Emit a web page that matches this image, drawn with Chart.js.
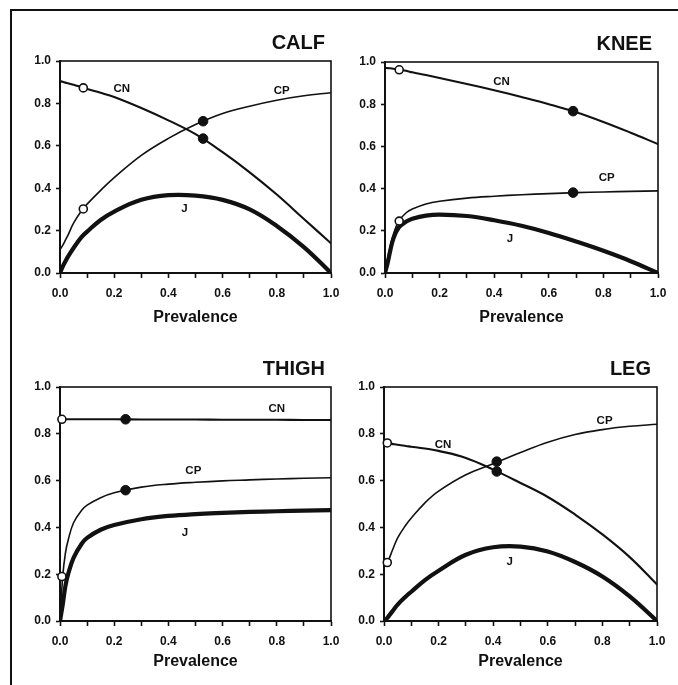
<!DOCTYPE html>
<html>
<head>
<meta charset="utf-8">
<script src="https://cdn.jsdelivr.net/npm/chart.js@4.4.1/dist/chart.umd.min.js"></script>
<style>
  html, body { margin: 0; padding: 0; background: #ffffff; width: 678px; height: 685px; overflow: hidden; }
  body { position: relative; }
  #frame { position: absolute; left: 10px; top: 9px; width: 720px; height: 720px;
           border-top: 2px solid #111; border-left: 2px solid #111; }
  canvas { position: absolute; }
</style>
</head>
<body>
<div id="frame"></div>
<canvas id="calf"></canvas>
<canvas id="knee"></canvas>
<canvas id="thigh"></canvas>
<canvas id="leg"></canvas>
<script>
// ---------------- DATA ----------------
const prevalence = [0, 0.01, 0.02, 0.03, 0.05, 0.08, 0.1, 0.15, 0.2, 0.3, 0.4, 0.5, 0.6, 0.7, 0.8, 0.9, 1.0];

const xTickLabels = ['0.0', '0.2', '0.4', '0.6', '0.8', '1.0'];
const yTickLabels = ['0.0', '0.2', '0.4', '0.6', '0.8', '1.0'];

// CALF
const calfCN = [0.905, 0.902, 0.898, 0.895, 0.888, 0.876, 0.868, 0.85, 0.83, 0.778, 0.72, 0.655, 0.57, 0.475, 0.37, 0.255, 0.14];
const calfCP = [0.11, 0.13, 0.155, 0.18, 0.235, 0.295, 0.325, 0.39, 0.45, 0.555, 0.635, 0.70, 0.752, 0.787, 0.815, 0.836, 0.85];
const calfJ  = [0, 0.03, 0.055, 0.078, 0.118, 0.17, 0.195, 0.25, 0.29, 0.345, 0.367, 0.365, 0.345, 0.30, 0.222, 0.122, 0];
const calfOpen   = [[0.086, 0.873], [0.086, 0.302]];
const calfFilled = [[0.528, 0.634], [0.528, 0.716]];

// KNEE
const kneeCN = [0.972, 0.971, 0.970, 0.968, 0.965, 0.957, 0.951, 0.938, 0.924, 0.896, 0.866, 0.834, 0.80, 0.762, 0.716, 0.665, 0.611];
const kneeCP = [0, 0.07, 0.13, 0.18, 0.245, 0.288, 0.303, 0.327, 0.34, 0.355, 0.364, 0.371, 0.376, 0.381, 0.384, 0.387, 0.389];
const kneeJ  = [0, 0.05, 0.11, 0.16, 0.215, 0.245, 0.257, 0.272, 0.277, 0.27, 0.25, 0.224, 0.19, 0.149, 0.105, 0.056, 0];
const kneeOpen   = [[0.052, 0.963], [0.052, 0.246]];
const kneeFilled = [[0.689, 0.767], [0.689, 0.381]];

// THIGH
const thighCN = [0.862, 0.862, 0.862, 0.862, 0.862, 0.862, 0.862, 0.862, 0.862, 0.861, 0.861, 0.861, 0.860, 0.860, 0.860, 0.859, 0.859];
const thighCP = [0, 0.19, 0.29, 0.345, 0.42, 0.473, 0.495, 0.527, 0.548, 0.572, 0.585, 0.593, 0.599, 0.603, 0.607, 0.61, 0.612];
const thighJ  = [0, 0.07, 0.15, 0.2, 0.27, 0.33, 0.355, 0.39, 0.41, 0.435, 0.449, 0.457, 0.462, 0.466, 0.469, 0.472, 0.474];
const thighOpen   = [[0.007, 0.862], [0.007, 0.19]];
const thighFilled = [[0.242, 0.862], [0.242, 0.559]];

// LEG
const legCN = [null, 0.761, 0.759, 0.757, 0.753, 0.748, 0.745, 0.737, 0.727, 0.697, 0.647, 0.59, 0.53, 0.455, 0.37, 0.273, 0.156];
const legCP = [null, 0.245, 0.27, 0.30, 0.355, 0.41, 0.44, 0.505, 0.555, 0.625, 0.672, 0.72, 0.764, 0.797, 0.818, 0.832, 0.841];
const legJ  = [0, 0.01, 0.025, 0.04, 0.07, 0.105, 0.125, 0.175, 0.215, 0.283, 0.315, 0.318, 0.297, 0.252, 0.19, 0.105, 0];
const legOpen   = [[0.012, 0.761], [0.012, 0.25]];
const legFilled = [[0.413, 0.639], [0.413, 0.681]];

// ---------------- LAYOUT / STYLE ----------------
const FONT = '"Liberation Sans", Arial, Helvetica, sans-serif';
const INK = '#111111';
const M = { left: 60, top: 40, right: 22, bottom: 80 };

const panels = [
  { id: 'calf',  title: 'CALF',  rect: { L: 60,  T: 61,  R: 331, B: 273 }, xTitleOffset: 45,
    cn: calfCN, cp: calfCP, j: calfJ, open: calfOpen, filled: calfFilled,
    notes: [{ t: 'CN', x: 0.228, y: 0.871 }, { t: 'CP', x: 0.818, y: 0.858 }, { t: 'J', x: 0.459, y: 0.302 }] },
  { id: 'knee',  title: 'KNEE',  rect: { L: 385, T: 62,  R: 658, B: 273 }, xTitleOffset: 45,
    cn: kneeCN, cp: kneeCP, j: kneeJ, open: kneeOpen, filled: kneeFilled,
    notes: [{ t: 'CN', x: 0.427, y: 0.907 }, { t: 'CP', x: 0.812, y: 0.449 }, { t: 'J', x: 0.458, y: 0.164 }] },
  { id: 'thigh', title: 'THIGH', rect: { L: 60,  T: 387, R: 331, B: 621 }, xTitleOffset: 41,
    cn: thighCN, cp: thighCP, j: thighJ, open: thighOpen, filled: thighFilled,
    notes: [{ t: 'CN', x: 0.80, y: 0.905 }, { t: 'CP', x: 0.492, y: 0.642 }, { t: 'J', x: 0.461, y: 0.377 }] },
  { id: 'leg',   title: 'LEG',   rect: { L: 384, T: 387, R: 657, B: 621 }, xTitleOffset: 41,
    cn: legCN, cp: legCP, j: legJ, open: legOpen, filled: legFilled,
    notes: [{ t: 'CN', x: 0.216, y: 0.751 }, { t: 'CP', x: 0.808, y: 0.854 }, { t: 'J', x: 0.46, y: 0.251 }] }
];

function series(xs, ys) { return xs.map((x, i) => ({ x: x, y: ys[i] })); }
function pts(arr) { return arr.map(p => ({ x: p[0], y: p[1] })); }

function decoPlugin(p) {
  return {
    id: 'deco_' + p.id,
    beforeDatasetsDraw(chart) {
      const { ctx, chartArea: a } = chart;
      ctx.save();
      ctx.strokeStyle = INK;
      ctx.lineWidth = 1.6;
      ctx.strokeRect(a.left, a.top, a.right - a.left, a.bottom - a.top);
      ctx.restore();
    },
    afterDatasetsDraw(chart) {
      const { ctx, chartArea: a, scales } = chart;
      ctx.save();
      ctx.fillStyle = INK;
      ctx.font = 'bold 20px ' + FONT;
      ctx.textAlign = 'right';
      ctx.textBaseline = 'alphabetic';
      ctx.fillText(p.title, a.right - 6, a.top - 12);
      ctx.font = 'bold 11.5px ' + FONT;
      ctx.textAlign = 'center';
      ctx.textBaseline = 'middle';
      p.notes.forEach(n => {
        ctx.fillText(n.t, scales.x.getPixelForValue(n.x), scales.y.getPixelForValue(n.y));
      });
      ctx.restore();
    }
  };
}

function makePanel(p) {
  const c = document.getElementById(p.id);
  const w = (p.rect.R - p.rect.L) + M.left + M.right;
  const h = (p.rect.B - p.rect.T) + M.top + M.bottom;
  c.width = w; c.height = h;
  c.style.width = w + 'px'; c.style.height = h + 'px';
  c.style.left = (p.rect.L - M.left) + 'px';
  c.style.top = (p.rect.T - M.top) + 'px';

  const lineBase = { showLine: true, pointRadius: 0, pointHoverRadius: 0, borderColor: INK,
                     tension: 0.4, cubicInterpolationMode: 'default', fill: false,
                     borderCapStyle: 'round', borderJoinStyle: 'round' };

  new Chart(c, {
    type: 'scatter',
    data: {
      datasets: [
        { label: 'open', data: pts(p.open), showLine: false, pointRadius: 4, pointHoverRadius: 4,
          pointBackgroundColor: '#ffffff', pointBorderColor: INK, pointBorderWidth: 1.6, clip: false },
        { label: 'filled', data: pts(p.filled), showLine: false, pointRadius: 4.8, pointHoverRadius: 4.8,
          pointBackgroundColor: INK, pointBorderColor: INK, pointBorderWidth: 1, clip: false },
        Object.assign({ label: 'CN', data: series(prevalence, p.cn), borderWidth: 2.1 }, lineBase),
        Object.assign({ label: 'CP', data: series(prevalence, p.cp), borderWidth: 1.6 }, lineBase),
        Object.assign({ label: 'J', data: series(prevalence, p.j), borderWidth: 4.2 }, lineBase)
      ]
    },
    options: {
      responsive: false,
      animation: false,
      events: [],
      devicePixelRatio: 1,
      layout: { padding: { left: 0, top: M.top, right: M.right, bottom: 0 } },
      plugins: { legend: { display: false }, tooltip: { enabled: false }, title: { display: false } },
      scales: {
        x: {
          type: 'linear', min: 0, max: 1,
          afterFit(scale) { scale.height = M.bottom; },
          border: { display: true, color: INK, width: 2 },
          grid: { display: true, drawOnChartArea: false, drawTicks: true, tickLength: 5,
                  tickColor: INK, tickWidth: 1.6, color: INK },
          ticks: {
            stepSize: 0.1, autoSkip: false, maxRotation: 0, padding: 8, color: INK,
            font: { family: FONT, size: 12, weight: 'bold' },
            callback(v) { const i = Math.round(v * 10); return i % 2 === 0 ? xTickLabels[i / 2] : ''; }
          },
          title: {
            display: true, text: 'Prevalence', color: INK,
            font: { family: FONT, size: 16, weight: 'bold', lineHeight: 1.2 },
            padding: { top: 0, bottom: M.bottom - 9.6 - p.xTitleOffset }
          }
        },
        y: {
          type: 'linear', min: 0, max: 1,
          afterFit(scale) { scale.width = M.left; },
          border: { display: true, color: INK, width: 2 },
          grid: { display: true, drawOnChartArea: false, drawTicks: true, tickLength: 4,
                  tickColor: INK, tickWidth: 1.6, color: INK },
          ticks: {
            stepSize: 0.2, autoSkip: false, padding: 5, color: INK,
            font: { family: FONT, size: 12, weight: 'bold' },
            callback(v) { return yTickLabels[Math.round(v * 5)]; }
          }
        }
      }
    },
    plugins: [decoPlugin(p)]
  });
}

panels.forEach(makePanel);
</script>
</body>
</html>
